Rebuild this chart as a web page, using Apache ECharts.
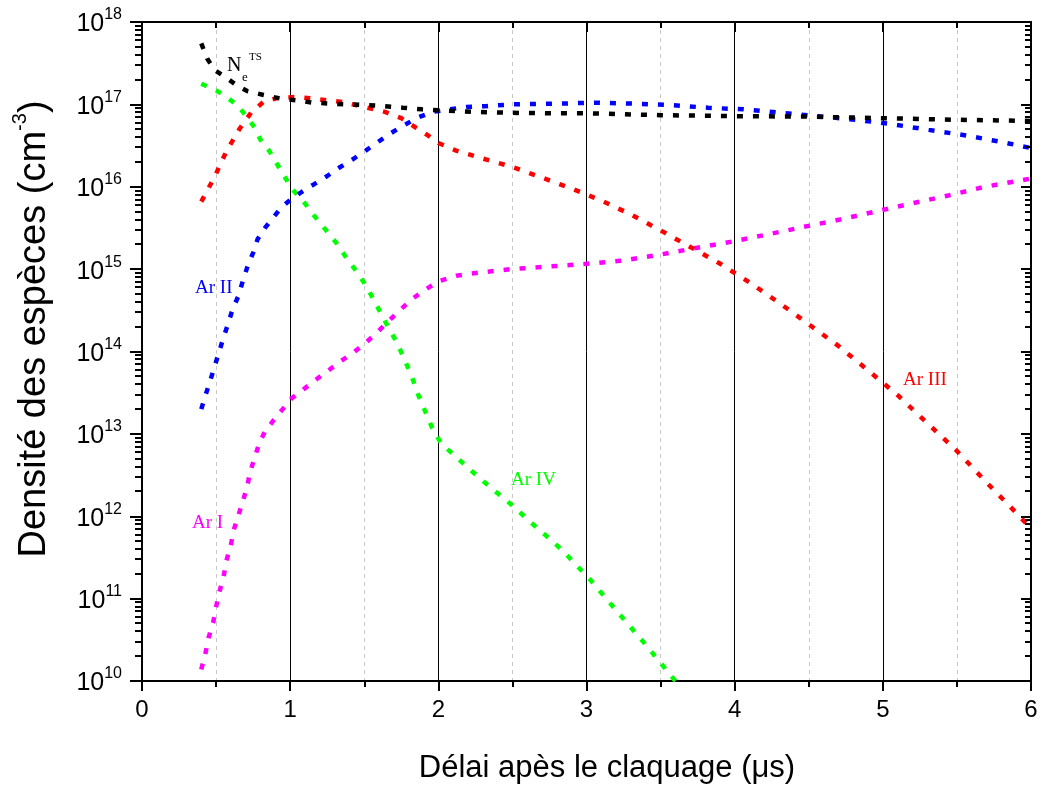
<!DOCTYPE html>
<html><head><meta charset="utf-8">
<script src="https://cdn.jsdelivr.net/npm/echarts@6/dist/echarts.min.js"></script>
<style>html,body{margin:0;padding:0;background:#fff}#c{width:1043px;height:787px}</style>
</head><body><div id="c"></div>
<script>
// x tick labels (µs)
const xTickLabels = ['0','1','2','3','4','5','6'];
// Decade tick exponents on the density axis
const yDecades = [10,11,12,13,14,15,16,17,18];

// N_e^TS (black)
const neX = [0.40,0.44,0.49,0.57,0.64,0.71,0.82,0.94,1.04,1.15,1.28,1.40,1.52,1.64,1.76,1.89,2.00,2.25,2.50,2.75,3.00,3.50,4.00,4.50,5.00,5.50,6.00];
const neY = [5.5e17,3.6e17,2.6e17,2.1e17,1.7e17,1.45e17,1.3e17,1.17e17,1.12e17,1.05e17,1.02e17,1.0e17,9.8e16,9.5e16,9.1e16,8.7e16,8.5e16,8.1e16,7.9e16,7.8e16,7.8e16,7.4e16,7.2e16,7.1e16,6.8e16,6.5e16,6.3e16];

// Ar III (red)
const ar3X = [0.40,0.49,0.57,0.66,0.74,0.82,0.92,1.05,1.20,1.35,1.50,1.64,1.75,1.85,1.93,2.00,2.12,2.30,2.50,2.70,2.90,3.10,3.30,3.50,3.70,3.90,4.10,4.30,4.50,4.70,4.90,5.10,5.30,5.50,5.70,5.90,6.00];
const ar3Y = [6.6e15,1.32e16,2.7e16,5.1e16,8.1e16,1.07e17,1.2e17,1.23e17,1.15e17,1.07e17,9.3e16,8.1e16,6.8e16,5.2e16,4.2e16,3.4e16,2.75e16,2.2e16,1.74e16,1.29e16,9.5e15,6.8e15,4.6e15,2.95e15,1.86e15,1.17e15,6.9e14,3.9e14,2.14e14,1.17e14,5.9e13,2.95e13,1.35e13,6.2e12,2.57e12,1.1e12,7.1e11];

// Ar II (blue)
const ar2X = [0.40,0.43,0.46,0.49,0.52,0.55,0.58,0.61,0.65,0.68,0.71,0.75,0.78,0.83,0.88,0.94,1.00,1.08,1.16,1.25,1.33,1.42,1.51,1.59,1.68,1.77,1.86,1.96,2.07,2.19,2.32,2.50,2.80,3.07,3.32,3.57,3.82,4.06,4.31,4.56,4.82,5.06,5.31,5.56,5.81,6.00];
const ar2Y = [2.0e13,3.0e13,4.4e13,6.6e13,9.8e13,1.48e14,2.14e14,3.2e14,4.7e14,7.1e14,1.05e15,1.58e15,2.3e15,3.16e15,4.1e15,5.6e15,6.9e15,8.7e15,1.07e16,1.35e16,1.7e16,2.14e16,2.75e16,3.47e16,4.47e16,5.6e16,6.9e16,8.1e16,8.7e16,9.3e16,9.5e16,1.0e17,1.02e17,1.05e17,1.02e17,9.8e16,9.1e16,8.7e16,7.9e16,7.2e16,6.5e16,5.75e16,4.9e16,4.2e16,3.47e16,2.95e16];

// Ar IV (green)
const ar4X = [0.40,0.50,0.57,0.65,0.71,0.76,0.80,0.86,0.91,0.96,1.01,1.09,1.16,1.24,1.31,1.37,1.44,1.50,1.56,1.61,1.66,1.72,1.77,1.82,1.86,1.91,1.96,2.02,2.12,2.22,2.31,2.40,2.49,2.58,2.67,2.77,2.86,2.94,3.02,3.20,3.40,3.60];
const ar4Y = [1.78e17,1.48e17,1.23e17,9.5e16,6.9e16,5.25e16,3.7e16,2.7e16,1.9e16,1.35e16,9.5e15,6.6e15,4.5e15,3.0e15,2.1e15,1.45e15,9.8e14,6.8e14,4.4e14,2.95e14,2.0e14,1.29e14,8.1e13,5.0e13,3.1e13,1.9e13,1.17e13,7.6e12,5.25e12,3.6e12,2.6e12,1.9e12,1.4e12,1.0e12,7.1e11,5.0e11,3.5e11,2.45e11,1.74e11,7.2e10,2.75e10,1.0e10];

// Ar I (magenta)
const ar1X = [0.40,0.43,0.45,0.48,0.50,0.52,0.55,0.57,0.60,0.62,0.65,0.68,0.71,0.73,0.76,0.79,0.83,0.89,0.95,1.01,1.09,1.17,1.25,1.34,1.42,1.50,1.58,1.66,1.74,1.82,1.91,2.00,2.12,2.24,2.49,2.73,2.98,3.23,3.48,3.72,3.97,4.22,4.46,4.71,4.95,5.20,5.45,5.69,5.94,6.00];
const ar1Y = [1.38e10,2.24e10,3.4e10,5.1e10,7.9e10,1.17e11,1.82e11,2.9e11,4.5e11,6.9e11,1.02e12,1.51e12,2.3e12,3.47e12,5.1e12,7.6e12,1.07e13,1.48e13,2.0e13,2.7e13,3.47e13,4.5e13,5.75e13,7.6e13,9.5e13,1.23e14,1.66e14,2.3e14,3.16e14,4.3e14,5.6e14,7.1e14,8.3e14,8.9e14,1.0e15,1.07e15,1.15e15,1.26e15,1.48e15,1.78e15,2.14e15,2.63e15,3.24e15,4.0e15,5.0e15,6.3e15,7.9e15,1.0e16,1.2e16,1.26e16];

const zip = (xs, ys) => xs.map((x, i) => [x, ys[i]]);
const SANS = "'Liberation Sans', Arial, sans-serif";
const SERIF = "'Liberation Serif', 'Times New Roman', serif";

function curve(name, xs, ys, color) {
  return {
    name, type: 'line', data: zip(xs, ys), showSymbol: false, symbol: 'none',
    lineStyle: { color, width: 4.5, type: [6, 10], cap: 'butt' },
    z: 5, animation: false
  };
}

const W = 1043, H = 787;
const G = { left: 142, right: 12, top: 22, bottom: 106 };
const y0 = yDecades[0], y1 = yDecades[yDecades.length - 1];
const plotH = H - G.top - G.bottom;

const chart = echarts.init(document.getElementById('c'), null, { renderer: 'canvas' });
const xAxisBase = {
  type: 'value', min: 0, max: 6, interval: 1,
  axisLine: { show: true, onZero: false, lineStyle: { color: '#000', width: 2 } },
  axisTick: { show: true, length: 10, lineStyle: { color: '#000', width: 2 } },
  minorTick: { show: true, splitNumber: 2, length: 6, lineStyle: { color: '#000', width: 2 } }
};
const labelGraphics = [
  { type: 'text', left: 227, top: 56, style: { text: 'N', fill: '#000', font: '20px ' + SERIF } },
  { type: 'text', left: 242, top: 71, style: { text: 'e', fill: '#000', font: '13px ' + SERIF } },
  { type: 'text', left: 249, top: 52, style: { text: 'TS', fill: '#000', font: '11px ' + SERIF } },
  { type: 'text', left: 195, top: 279, style: { text: 'Ar II', fill: '#0000ff', font: '19px ' + SERIF } },
  { type: 'text', left: 192, top: 514, style: { text: 'Ar I', fill: '#ff00ff', font: '19px ' + SERIF } },
  { type: 'text', left: 511, top: 471, style: { text: 'Ar IV', fill: '#00ff00', font: '19px ' + SERIF } },
  { type: 'text', left: 903, top: 371, style: { text: 'Ar III', fill: '#ff0000', font: '19px ' + SERIF } },
  { type: 'text', x: 607, y: 768, style: { text: 'Délai apès le claquage (μs)', fill: '#000', font: '31px ' + SANS, align: 'center', verticalAlign: 'middle' } },
  { type: 'text', x: 32, y: 329, rotation: Math.PI / 2,
    style: { text: '{a|Densité des espèces (cm}{s|-3}{a|)}', align: 'center', verticalAlign: 'middle',
      rich: {
        a: { fontSize: 38, fontFamily: SANS, fill: '#000', lineHeight: 44, verticalAlign: 'bottom' },
        s: { fontSize: 20, fontFamily: SANS, fill: '#000', lineHeight: 44, verticalAlign: 'top' }
      } } }
];
// minor log ticks at k*10^e drawn as small filled rects on the frame
const tickGraphics = [];
for (let e = y0; e < y1; e++) {
  for (let k = 2; k <= 9; k++) {
    const py = Math.round(G.top + (y1 - (e + Math.log10(k))) / (y1 - y0) * plotH);
    tickGraphics.push({ type: 'rect', x: G.left - 7, y: py - 1, z: 100, shape: { x: 0, y: 0, width: 7, height: 2 }, style: { fill: '#000' } });
    tickGraphics.push({ type: 'rect', x: W - G.right - 6, y: py - 1, z: 100, shape: { x: 0, y: 0, width: 6, height: 2 }, style: { fill: '#000' } });
  }
}

chart.setOption({
  animation: false,
  backgroundColor: '#fff',
  grid: { left: G.left, right: G.right, top: G.top, bottom: G.bottom, containLabel: false },
  xAxis: [
    Object.assign({}, xAxisBase, {
      position: 'bottom',
      axisLabel: { fontSize: 24, color: '#000', fontFamily: SANS, margin: 17,
        formatter: v => xTickLabels[Math.round(v)] },
      splitLine: { show: true, lineStyle: { color: '#000', width: 1 } },
      minorSplitLine: { show: true, lineStyle: { color: '#c8c8c8', width: 1, type: [4, 4] } }
    }),
    Object.assign({}, xAxisBase, {
      position: 'top',
      axisTick: { show: true, inside: true, length: 10, lineStyle: { color: '#000', width: 2 } },
      axisLabel: { show: false },
      splitLine: { show: false }
    })
  ],
  yAxis: [
    {
      type: 'log', logBase: 10, min: 1e10, max: 1e18, splitNumber: 8, position: 'left',
      axisLine: { show: true, onZero: false, lineStyle: { color: '#000', width: 2 } },
      axisTick: { show: true, length: 12, lineStyle: { color: '#000', width: 2 } },
      splitLine: { show: false },
      axisLabel: {
        margin: 20, color: '#000',
        formatter: v => '{b|10}{s|' + Math.round(Math.log10(v)) + '}',
        rich: {
          b: { fontSize: 25, fontFamily: SANS, color: '#000', lineHeight: 30, verticalAlign: 'bottom' },
          s: { fontSize: 16, fontFamily: SANS, color: '#000', lineHeight: 30, verticalAlign: 'top' }
        }
      }
    },
    {
      type: 'log', logBase: 10, min: 1e10, max: 1e18, splitNumber: 8, position: 'right',
      axisLine: { show: true, onZero: false, lineStyle: { color: '#000', width: 2 } },
      axisTick: { show: true, inside: true, length: 10, lineStyle: { color: '#000', width: 2 } },
      splitLine: { show: false },
      axisLabel: { show: false }
    }
  ],
  series: [
    curve('Ar I', ar1X, ar1Y, '#ff00ff'),
    curve('Ar IV', ar4X, ar4Y, '#00ff00'),
    curve('Ar II', ar2X, ar2Y, '#0000ff'),
    curve('Ar III', ar3X, ar3Y, '#ff0000'),
    curve('Ne TS', neX, neY, '#000000')
  ],
  graphic: { elements: labelGraphics.concat(tickGraphics) }
});
</script>
</body></html>
